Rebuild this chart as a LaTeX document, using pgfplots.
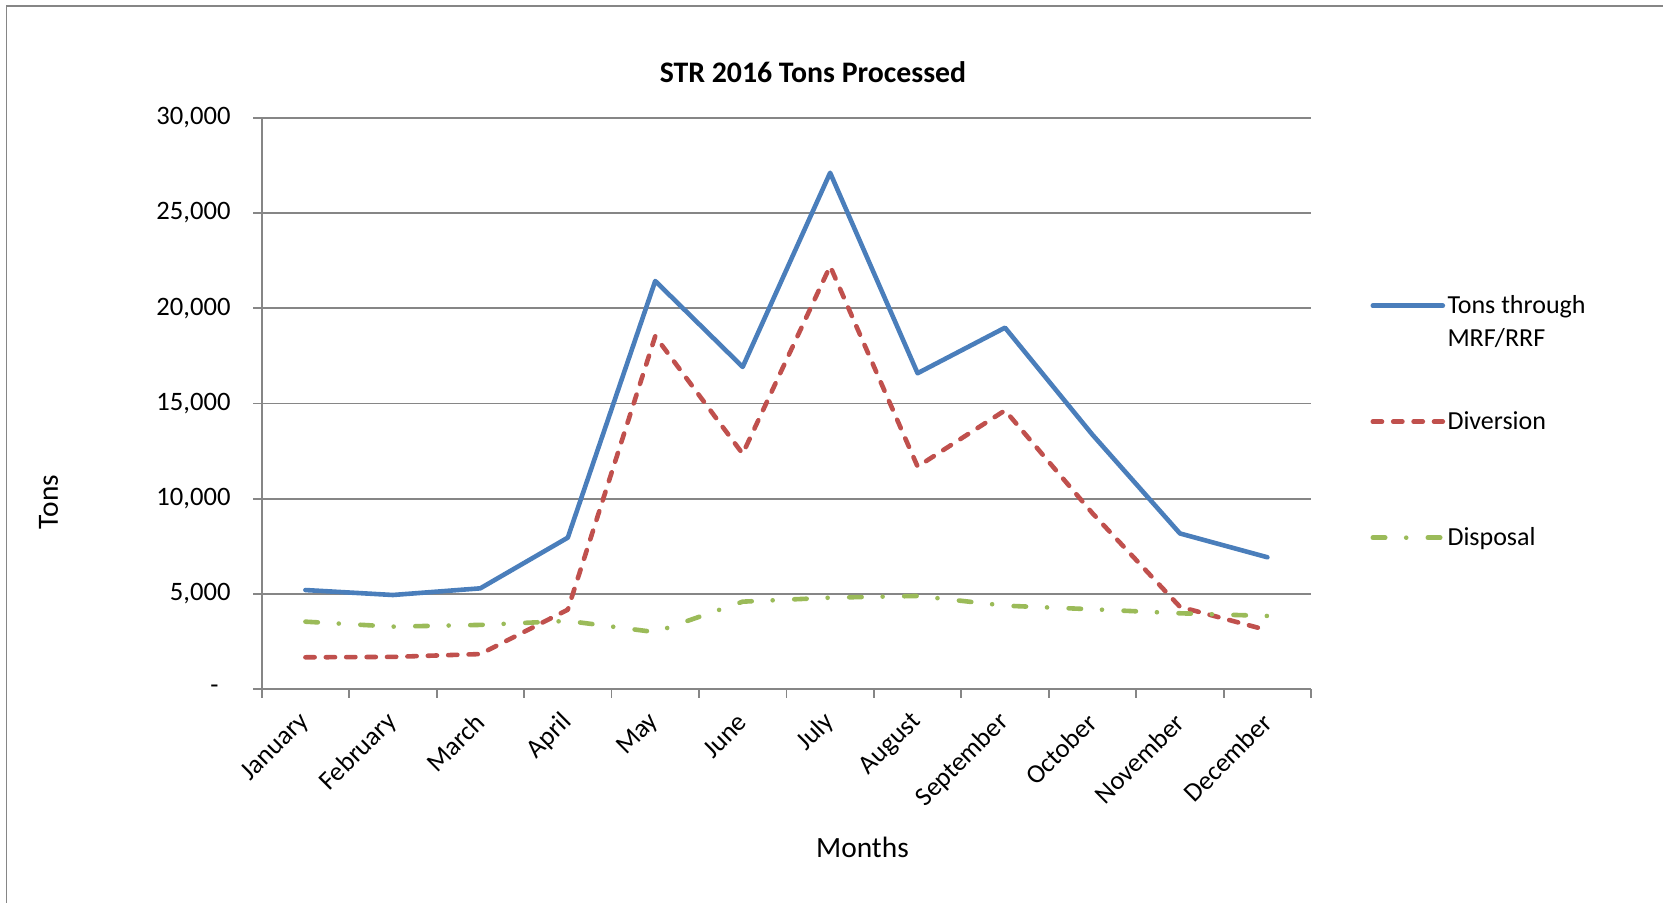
\documentclass[border=0pt]{standalone}
\usepackage{fontspec}
\setmainfont{Carlito}
\usepackage{pgfplots}
\pgfplotsset{compat=1.18}
\definecolor{cblue}{HTML}{4A7EBB}
\definecolor{cred}{HTML}{C0504D}
\definecolor{cgreen}{HTML}{9BBB59}
\definecolor{cgrid}{HTML}{868686}
\begin{document}
\begin{tikzpicture}
\path[use as bounding box] (0,0) rectangle (831.5pt,451pt);
\draw[cgrid, line width=0.7pt] (3.3pt,-2pt) -- (3.3pt,448pt) -- (834pt,448pt);
\begin{axis}[
  at={(130.85pt,106.35pt)}, anchor=south west,
  scale only axis, width=524.7pt, height=285.8pt,
  xmin=0.5, xmax=12.5, ymin=0, ymax=30000,
  axis x line*=bottom, axis y line*=left,
  axis line style={cgrid, line width=0.9pt},
  xtick={0.5,1.5,...,12.5},
  x tick label as interval,
  xticklabels={January,February,March,April,May,June,July,August,September,October,November,December},
  ytick={0,5000,...,30000},
  scaled y ticks=false,
  yticklabels={{\makebox[10pt][l]{-}},{5,000},{10,000},{15,000},{20,000},{25,000},{30,000}},
  tick align=outside,
  major tick length=4.3pt,
  tick style={cgrid, line width=0.9pt},
  ymajorgrids, grid style={cgrid, line width=0.9pt},
  tick label style={font=\fontsize{13.3}{16}\selectfont},
  xticklabel style={yshift=-10pt, rotate=45, anchor=east, inner sep=0pt},
  yticklabel style={anchor=east, inner sep=0pt, xshift=-11.1pt},
  title={STR 2016 Tons Processed},
  title style={at={(axis description cs:0.5253,1.058)}, anchor=center, inner sep=0pt, font=\bfseries\fontsize{14.9}{18}\selectfont},
  xlabel={Months},
  xlabel style={at={(axis description cs:0.5725,-0.2768)}, anchor=center, inner sep=0pt, font=\fontsize{14.7}{17}\selectfont},
  ylabel={Tons},
  ylabel style={at={(axis description cs:-0.203,0.3277)}, anchor=center, inner sep=0pt, font=\fontsize{14.7}{17}\selectfont},
  legend style={at={(axis description cs:1.0566,0.6886)}, anchor=north west, draw=none, fill=none,
    inner sep=0pt, outer sep=0pt, row sep=45pt, column sep=1.2pt,
    font=\fontsize{13}{16.4}\selectfont,
    nodes={inner sep=0pt, outer sep=0pt},
    cells={anchor=base west}},
  legend image code/.code={\draw[#1] (0pt,4pt) -- (35pt,4pt);},
]
\addplot[cblue, line width=2.3pt, line join=round, line cap=round] coordinates {
(1,5210) (2,4950) (3,5300) (4,7960) (5,21430) (6,16920) (7,27110) (8,16590) (9,18980) (10,13360) (11,8180) (12,6930)};
\addlegendentry{\parbox[t]{90pt}{Tons through\\MRF/RRF\strut}}
\addplot[cred, line width=2.3pt, line join=round, line cap=round, dash pattern=on 4.6pt off 5.6pt] coordinates {
(1,1680) (2,1700) (3,1850) (4,4180) (5,18530) (6,12360) (7,22210) (8,11690) (9,14640) (10,9240) (11,4330) (12,3100)};
\addlegendentry{Diversion\rule[-21.32pt]{0pt}{21.32pt}\strut}
\addplot[cgreen, line width=2.3pt, line join=round, line cap=round, dash pattern=on 6.2pt off 10.5pt on 0pt off 10.8pt] coordinates {
(1,3550) (2,3290) (3,3380) (4,3590) (5,3000) (6,4600) (7,4810) (8,4900) (9,4390) (10,4200) (11,3990) (12,3850)};
\addlegendentry{Disposal\rule[-21.32pt]{0pt}{21.32pt}\strut}
\end{axis}
\end{tikzpicture}
\end{document}
